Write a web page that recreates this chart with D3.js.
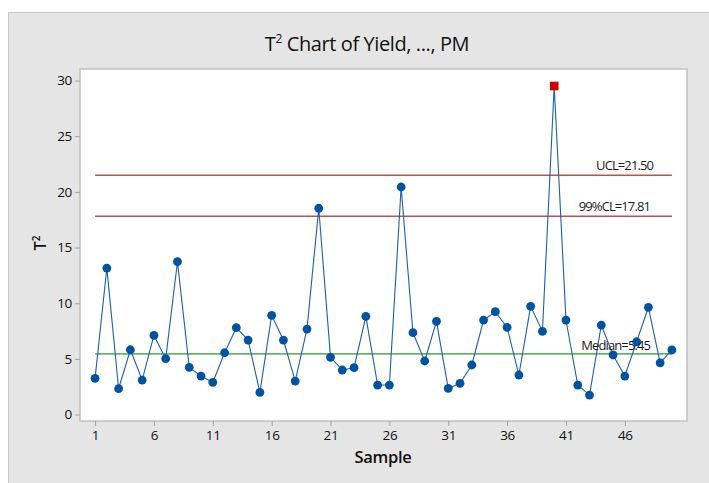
<!DOCTYPE html>
<html>
<head>
<meta charset="utf-8">
<script src="https://cdn.jsdelivr.net/npm/d3@7"></script>
<style>
body{margin:0;background:#fff;}
text{font-family:"Open Sans","Noto Sans",sans-serif;}
</style>
</head>
<body>
<svg id="chart" width="709" height="483"></svg>
<script>
const samples = d3.range(1, 51);
const t2Values = [3.25,13.16,2.32,5.82,3.10,7.11,5.02,13.73,4.24,3.46,
  2.89,5.55,7.80,6.69,1.99,8.91,6.69,3.01,7.68,18.53,
  5.14,4.00,4.21,8.82,2.65,2.65,20.44,7.35,4.81,8.37,
  2.35,2.80,4.45,8.49,9.24,7.83,3.55,9.72,7.47,29.51,
  8.49,2.65,1.75,8.04,5.35,3.46,6.54,9.63,4.65,5.80];
const xTicks = [1,6,11,16,21,26,31,36,41,46];
const yTicks = [0,5,10,15,20,25,30];
const ucl = 21.50, cl99 = 17.81, median = 5.45;
const outOfControl = [40];

const svg = d3.select("#chart");
const L = 80, R = 687, T = 69, B = 421;

svg.append("rect").attr("x",8.5).attr("y",12.5).attr("width",720).attr("height",500)
  .attr("fill","#e5e5e5").attr("stroke","#c8c8c8");
svg.append("rect").attr("x",L).attr("y",T).attr("width",R-L).attr("height",B-T)
  .attr("fill","#fff").attr("stroke","#c0c0c0").attr("stroke-width",1.5);

const x = d3.scaleLinear().domain([1-1.28, 50+1.28]).range([L, R]);
const y = d3.scaleLinear().domain([-0.58, 31.04]).range([B, T]);

// axes
const xAxis = svg.append("g").attr("transform",`translate(0,${B})`)
  .call(d3.axisBottom(x).tickValues(xTicks).tickSize(5).tickPadding(4).tickSizeOuter(0));
const yAxis = svg.append("g").attr("transform",`translate(${L},0)`)
  .call(d3.axisLeft(y).tickValues(yTicks).tickSize(5).tickPadding(3).tickSizeOuter(0));
[xAxis,yAxis].forEach(a=>{
  a.select(".domain").remove();
  a.selectAll(".tick line").attr("stroke","#a0a0a0");
  a.selectAll(".tick text").attr("fill","#111").style("font-size","13.5px")
    .style("font-family","'Open Sans',sans-serif").style("letter-spacing","-0.3px");
});

// reference lines
function hline(v, color, w){
  svg.append("line").attr("x1",x(1)).attr("x2",x(50)).attr("y1",y(v)).attr("y2",y(v))
    .attr("stroke",color).attr("stroke-width",w);
}
hline(ucl,"#c0504d",1.5);
hline(cl99,"#c0504d",1.5);
hline(median,"#6ab46a",1.8);

// series
const line = d3.line().x((d,i)=>x(samples[i])).y(d=>y(d));
svg.append("path").datum(t2Values).attr("d",line).attr("fill","none")
  .attr("stroke","#1f5ea8").attr("stroke-width",1.1);
svg.selectAll("circle.pt").data(t2Values.map((v,i)=>({s:samples[i],v})).filter(d=>!outOfControl.includes(d.s)))
  .join("circle").attr("class","pt").attr("cx",d=>x(d.s)).attr("cy",d=>y(d.v)).attr("r",4.4)
  .attr("fill","#0052a3");
svg.selectAll("rect.ooc").data(t2Values.map((v,i)=>({s:samples[i],v})).filter(d=>outOfControl.includes(d.s)))
  .join("rect").attr("class","ooc").attr("x",d=>x(d.s)-4.3).attr("y",d=>y(d.v)-4.3)
  .attr("width",8.6).attr("height",8.6).attr("fill","#d40000");

// labels
function lab(txt, xr, yc){
  svg.append("text").attr("x",xr).attr("y",yc).attr("text-anchor","end")
    .attr("dominant-baseline","central").attr("fill","#1a1a1a")
    .style("font-size","13px").style("letter-spacing","-0.9px").text(txt);
}
lab("UCL=21.50", 653, y(ucl)-10);
lab("99%CL=17.81", 650, y(cl99)-10);
lab("Median=5.45", 650, y(median)-9);

// title
const title = svg.append("text").attr("x",367).attr("y",51).attr("text-anchor","middle")
  .attr("fill","#111").style("font-size","20px").style("letter-spacing","-0.4px");
title.append("tspan").text("T");
title.append("tspan").attr("dy",-8).style("font-size","12px").text("2");
title.append("tspan").attr("dy",8).text(" Chart of Yield, ..., PM");

// axis titles
svg.append("text").attr("x",383).attr("y",463).attr("text-anchor","middle")
  .attr("fill","#111").style("font-size","16.5px").style("font-weight","600").style("letter-spacing","-0.3px").text("Sample");
const yl = svg.append("text").attr("transform","translate(46,243) rotate(-90)")
  .attr("text-anchor","middle").attr("fill","#111").style("font-size","16.5px").style("font-weight","600");
yl.append("tspan").text("T");
yl.append("tspan").attr("dy",-6).style("font-size","10px").text("2");
</script>
</body>
</html>
